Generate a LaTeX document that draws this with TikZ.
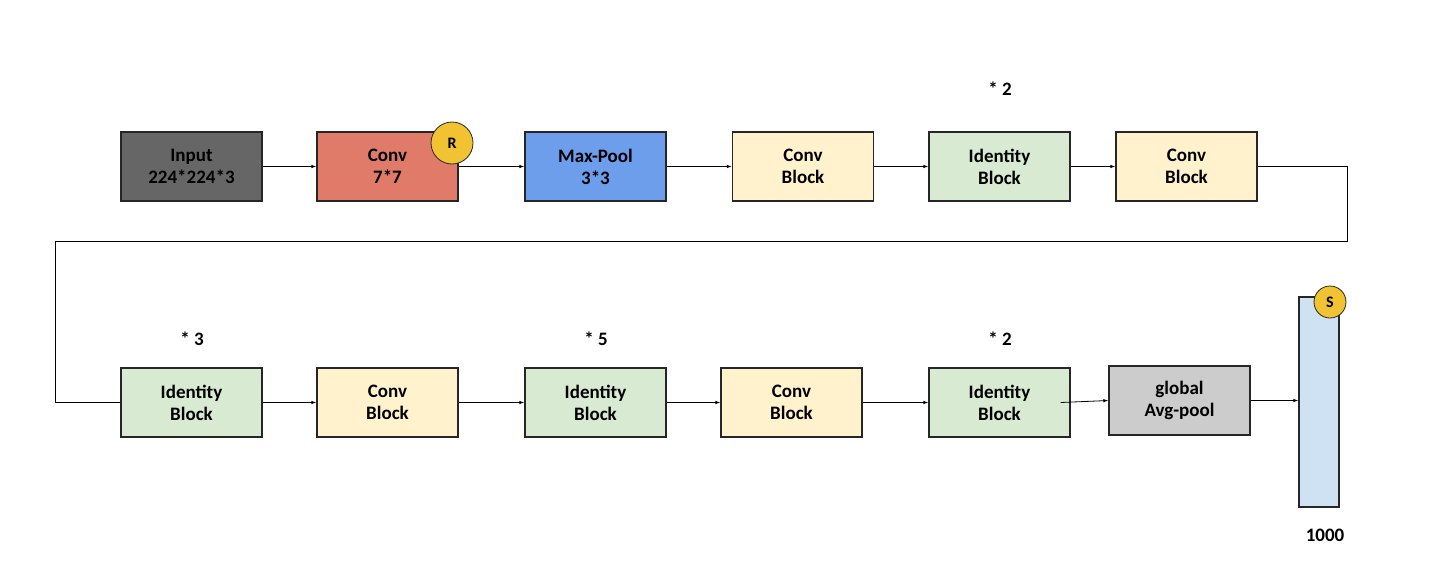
\documentclass[tikz,border=0pt]{standalone}
\usepackage{fontspec}
\setmainfont{Carlito}
\usetikzlibrary{arrows.meta}
\definecolor{inputgray}{HTML}{666666}
\definecolor{convred}{HTML}{E07B6A}
\definecolor{poolblue}{HTML}{6D9EEB}
\definecolor{convyellow}{HTML}{FFF2CC}
\definecolor{idgreen}{HTML}{D9EAD3}
\definecolor{avggray}{HTML}{CCCCCC}
\definecolor{outblue}{HTML}{CFE2F3}
\definecolor{badgeyellow}{HTML}{F1C232}
\begin{document}
\begin{tikzpicture}[x=1pt, y=-1pt,
  layer/.style={draw=black!85, line width=1.3pt, minimum width=141pt, minimum height=69pt, inner sep=0pt, align=center, font=\bfseries\fontsize{19}{22}\selectfont},
  badge/.style={circle, draw=black!85, line width=0.8pt, fill=badgeyellow, inner sep=0pt, font=\bfseries\fontsize{16}{18}\selectfont},
  lbl/.style={font=\bfseries\fontsize{19}{22}\selectfont},
  link/.style={line width=0.8pt, -{Latex[length=5pt,width=3.5pt]}}]
\useasboundingbox (0,0) rectangle (1447,560);
% first row
\node[layer, fill=inputgray] (inp) at (191.5,166.5){Input\\224*224*3};
\node[layer, fill=convred] (conv1) at (387.5,166.5){Conv\\7*7};
\node[badge, minimum size=42pt] (relu) at (452,143){R};
\node[layer, fill=poolblue] (pool) at (595.5,166.5){Max-Pool\\3*3};
\node[layer, fill=convyellow] (cb1) at (803,166.5){Conv\\Block};
\node[layer, fill=idgreen] (ib1) at (999.5,166.5){Identity\\Block};
\node[lbl] (rep1) at (1000,89){* 2};
\node[layer, fill=convyellow] (cb2) at (1186.5,166.5){Conv\\Block};
% second row
\node[layer, fill=idgreen] (ib2) at (191.5,402.5){Identity\\Block};
\node[lbl] (rep2) at (192,339){* 3};
\node[layer, fill=convyellow] (cb3) at (387.5,402.5){Conv\\Block};
\node[layer, fill=idgreen] (ib3) at (595.5,402.5){Identity\\Block};
\node[lbl] (rep3) at (596,339){* 5};
\node[layer, fill=convyellow] (cb4) at (791.5,402.5){Conv\\Block};
\node[layer, fill=idgreen] (ib4) at (999.5,402.5){Identity\\Block};
\node[lbl] (rep4) at (1000,339){* 2};
\node[layer, fill=avggray] (gap) at (1179.5,400.5){global\\Avg-pool};
\node[layer, fill=outblue, minimum width=40pt, minimum height=210pt] (fc) at (1319,402){};
\node[badge, minimum size=32pt] (soft) at (1330,302){S};
\node[lbl] (units) at (1325,535){1000};
% connectors
\draw[link](inp) -- (conv1);
\draw[link](conv1) -- (pool);
\draw[link](pool) -- (cb1);
\draw[link](cb1) -- (ib1);
\draw[link](ib1) -- (cb2);
\coordinate (wr1) at (1347,166.5);
\coordinate (wr2) at (1347,241);
\coordinate (wr3) at (55,241);
\coordinate (wr4) at (55,402.5);
\draw[line width=0.8pt](cb2.east) -- (wr1) -- (wr2) -- (wr3) -- (wr4) -- (ib2.west);
\draw[link](ib2) -- (cb3);
\draw[link](cb3) -- (ib3);
\draw[link](ib3) -- (cb4);
\draw[link](cb4) -- (ib4);
\draw[link]([xshift=-10pt]ib4.east) -- (gap.west);
\draw[link](gap.east) -- (fc.west |- gap.east);
\end{tikzpicture}
\end{document}
